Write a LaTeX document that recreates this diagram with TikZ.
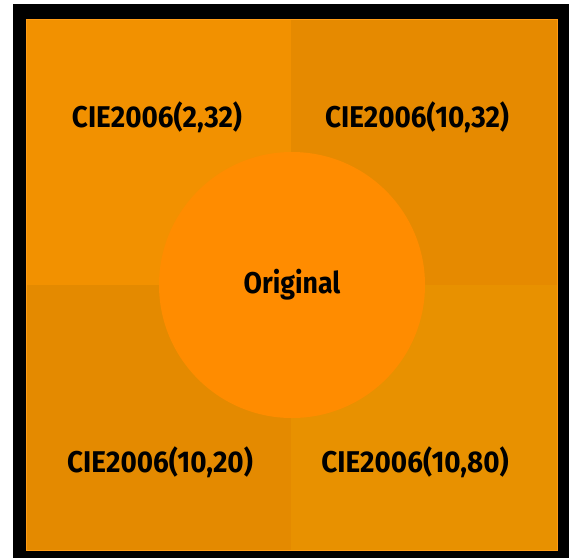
\documentclass[tikz,border=0pt]{standalone}
\usepackage{fontspec}
\setmainfont{Fira Sans}
\definecolor{quadTL}{RGB}{242,145,0}
\definecolor{quadTR}{RGB}{230,138,0}
\definecolor{quadBL}{RGB}{228,138,0}
\definecolor{quadBR}{RGB}{232,145,0}
\definecolor{origfill}{RGB}{255,140,0}
\definecolor{rimline}{RGB}{255,155,20}
\tikzset{
  quadlabel/.style={font=\bfseries\fontsize{30}{30}\selectfont, xscale=0.93, inner sep=0pt},
  origdisc/.style={circle, fill=origfill, minimum size=266pt, inner sep=0pt,
                   font=\bfseries\fontsize{30}{30}\selectfont}
}
\begin{document}
\begin{tikzpicture}[x=1pt, y=-1pt]
  \useasboundingbox (0,0) rectangle (569,558);
  \fill[black] (13,4) rectangle (569,558);
  \fill[quadTL] (26,19) rectangle (291,285);
  \fill[quadTR] (291,19) rectangle (558,285);
  \fill[quadBL] (26,285) rectangle (291,551);
  \fill[quadBR] (291,285) rectangle (558,551);
  \draw[rimline, line width=1pt] (26.5,19.5) rectangle (557.5,550.5);
  \node[origdisc] (orig) at (292,285) {\scalebox{0.89}[1]{Original}};
  \node[quadlabel] (cieA) at (157,117) {CIE2006(2,32)};
  \node[quadlabel] (cieB) at (417,117) {CIE2006(10,32)};
  \node[quadlabel] (cieC) at (160,462) {CIE2006(10,20)};
  \node[quadlabel] (cieD) at (415,462) {CIE2006(10,80)};
\end{tikzpicture}
\end{document}
